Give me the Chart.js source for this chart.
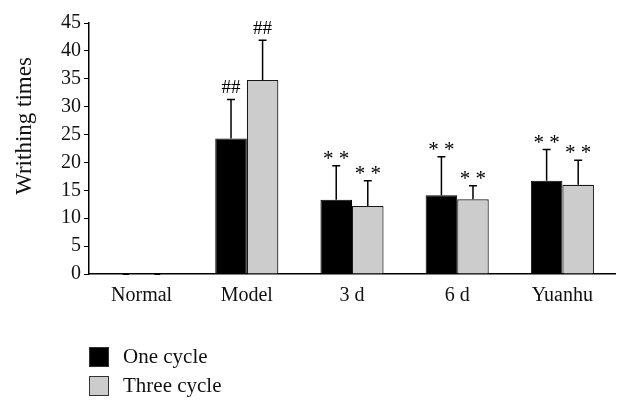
<!DOCTYPE html>
<html>
<head>
<meta charset="utf-8">
<script src="https://cdn.jsdelivr.net/npm/chart.js@4.4.1/dist/chart.umd.min.js"></script>
<style>
  html, body { margin: 0; padding: 0; background: #fff; }
  #wrap { width: 630px; height: 412px; position: relative; }
</style>
</head>
<body>
<div id="wrap"><canvas id="writhing"></canvas></div>
<script>
// DATA ------------------------------------------------------------
var groups = ["Normal", "Model", "3 d", "6 d", "Yuanhu"];
var seriesNames = ["One cycle", "Three cycle"];
var oneCycle = [0, 24.3, 13.3, 14.1, 16.7];
var threeCycle = [0, 34.8, 12.2, 13.4, 16.0];
// top of the error bar (mean + sd)
var oneCycleErr = [0, 31.3, 19.4, 21.0, 22.3];
var threeCycleErr = [0, 41.9, 16.7, 15.8, 20.4];
// significance marks above each bar
var oneCycleMark = ["", "##", "* *", "* *", "* *"];
var threeCycleMark = ["", "##", "* *", "* *", "* *"];
var yTicks = [0, 5, 10, 15, 20, 25, 30, 35, 40, 45];
var yTitle = "Writhing times";

var serif = "'Liberation Serif', 'DejaVu Serif', serif";
var errTops = [oneCycleErr, threeCycleErr];
var marks = [oneCycleMark, threeCycleMark];

//ERROR BARS + MARKS + LEGEND + Y TITLE
var extras = {
    id: "extras",
    afterDatasetsDraw: function (chart) {
        var ctx = chart.ctx;
        var y = chart.scales.y;
        ctx.save();
        for (var d = 0; d < chart.data.datasets.length; d++) {
            var meta = chart.getDatasetMeta(d);
            for (var i = 0; i < meta.data.length; i++) {
                var bar = meta.data[i];
                var val = chart.data.datasets[d].data[i];
                if (val <= 0) {
                    // tiny stub at zero for the Normal group
                    ctx.fillStyle = "#000";
                    ctx.fillRect(bar.x - 3, y.getPixelForValue(0) - 1, 6, 2);
                    continue;
                }
                var top = y.getPixelForValue(errTops[d][i]);
                var base = y.getPixelForValue(val);
                ctx.strokeStyle = "#000";
                ctx.lineWidth = 1.5;
                ctx.beginPath();
                ctx.moveTo(bar.x, base);
                ctx.lineTo(bar.x, top);
                ctx.moveTo(bar.x - 4, top);
                ctx.lineTo(bar.x + 4, top);
                ctx.stroke();

                ctx.fillStyle = "#000";
                var isHash = marks[d][i] == "##";
                ctx.font = (isHash ? "19px " : "21px ") + serif;
                ctx.textAlign = "center";
                ctx.textBaseline = "alphabetic";
                ctx.fillText(marks[d][i], bar.x, top - (isHash ? 6 : 1));
            }
        }

        //legend, stacked at bottom left
        var colors = ["#000000", "#cccccc"];
        for (var k = 0; k < seriesNames.length; k++) {
            var ly = 347 + k * 29;
            ctx.fillStyle = colors[k];
            ctx.fillRect(89, ly, 20, 20);
            ctx.strokeStyle = "#333";
            ctx.lineWidth = 1;
            ctx.strokeRect(89.5, ly + 0.5, 19, 19);
            ctx.fillStyle = "#111";
            ctx.font = "21px " + serif;
            ctx.textAlign = "left";
            ctx.textBaseline = "middle";
            ctx.fillText(seriesNames[k], 123, ly + 10);
        }

        //axis title, sits a bit above the middle of the axis like the original
        ctx.translate(25, 126);
        ctx.rotate(-Math.PI / 2);
        ctx.fillStyle = "#111";
        ctx.font = "23px " + serif;
        ctx.textAlign = "center";
        ctx.textBaseline = "middle";
        ctx.fillText(yTitle, 0, 0);
        ctx.restore();
    }
};

new Chart("writhing", {
    type: "bar",
    data: {
        labels: groups,
        datasets: [{
            label: seriesNames[0],
            data: oneCycle,
            backgroundColor: "#000000",
            borderColor: "#000000",
            borderWidth: 1
        }, {
            label: seriesNames[1],
            data: threeCycle,
            backgroundColor: "#cccccc",
            borderColor: "#1a1a1a",
            borderWidth: 1.2
        }]
    },
    options: {
        responsive: true,
        maintainAspectRatio: false,
        animation: false,
        layout: { padding: { top: 23, right: 15, bottom: 102, left: 58 } },
        datasets: { bar: { categoryPercentage: 0.6, barPercentage: 1.0 } },
        plugins: {
            legend: { display: false },
            tooltip: { enabled: false }
        },
        scales: {
            x: {
                grid: { display: false },
                border: { display: true, color: "#000", width: 1.5 },
                ticks: { color: "#111", font: { family: serif, size: 20 }, padding: 2 }
            },
            y: {
                min: 0,
                max: 45,
                afterBuildTicks: function (axis) {
                    axis.ticks = yTicks.map(function (v) { return { value: v }; });
                },
                grid: { drawOnChartArea: false, drawTicks: true, tickLength: 5, color: "#000" },
                border: { display: true, color: "#000", width: 1.5 },
                ticks: { color: "#111", font: { family: serif, size: 20 }, padding: 3 }
            }
        }
    },
    plugins: [extras]
});
</script>
</body>
</html>
